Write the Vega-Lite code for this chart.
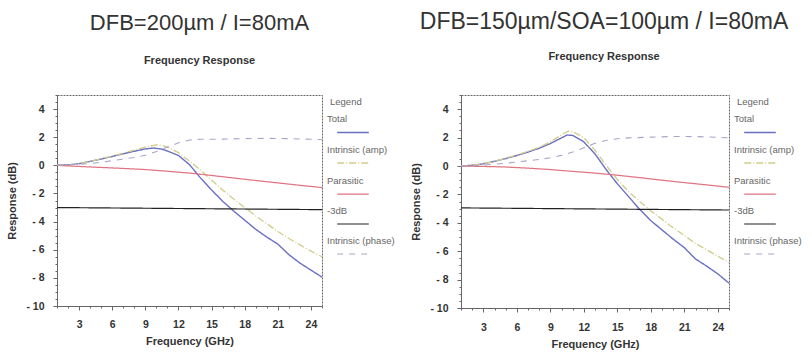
{
  "$schema": "https://vega.github.io/schema/vega-lite/v6.json",
  "background": "white",
  "padding": {"left": 6, "top": 10, "right": 2, "bottom": 2},
  "datasets": {
    "p200": [
      {"series":"Total","f":1,"v":0},{"series":"Total","f":2,"v":0.03},{"series":"Total","f":3,"v":0.12},{"series":"Total","f":4,"v":0.28},{"series":"Total","f":5,"v":0.45},{"series":"Total","f":6,"v":0.63},{"series":"Total","f":7,"v":0.82},{"series":"Total","f":8,"v":1.0},{"series":"Total","f":9,"v":1.17},{"series":"Total","f":9.8,"v":1.23},{"series":"Total","f":10.5,"v":1.15},{"series":"Total","f":11,"v":1.02},{"series":"Total","f":12,"v":0.7},{"series":"Total","f":13,"v":0.05},{"series":"Total","f":14,"v":-0.9},{"series":"Total","f":15,"v":-1.75},{"series":"Total","f":16,"v":-2.55},{"series":"Total","f":17,"v":-3.25},{"series":"Total","f":18,"v":-3.9},{"series":"Total","f":19,"v":-4.55},{"series":"Total","f":20,"v":-5.1},{"series":"Total","f":21,"v":-5.6},{"series":"Total","f":22,"v":-6.35},{"series":"Total","f":23,"v":-6.95},{"series":"Total","f":24,"v":-7.45},{"series":"Total","f":25,"v":-7.95},
      {"series":"Intrinsic (amp)","f":1,"v":0},{"series":"Intrinsic (amp)","f":2,"v":0.03},{"series":"Intrinsic (amp)","f":3,"v":0.12},{"series":"Intrinsic (amp)","f":4,"v":0.28},{"series":"Intrinsic (amp)","f":5,"v":0.47},{"series":"Intrinsic (amp)","f":6,"v":0.66},{"series":"Intrinsic (amp)","f":7,"v":0.87},{"series":"Intrinsic (amp)","f":8,"v":1.08},{"series":"Intrinsic (amp)","f":9,"v":1.3},{"series":"Intrinsic (amp)","f":10,"v":1.45},{"series":"Intrinsic (amp)","f":10.5,"v":1.42},{"series":"Intrinsic (amp)","f":11,"v":1.3},{"series":"Intrinsic (amp)","f":12,"v":0.9},{"series":"Intrinsic (amp)","f":13,"v":0.3},{"series":"Intrinsic (amp)","f":14,"v":-0.35},{"series":"Intrinsic (amp)","f":15,"v":-1.05},{"series":"Intrinsic (amp)","f":16,"v":-1.75},{"series":"Intrinsic (amp)","f":17,"v":-2.4},{"series":"Intrinsic (amp)","f":18,"v":-3.0},{"series":"Intrinsic (amp)","f":19,"v":-3.6},{"series":"Intrinsic (amp)","f":20,"v":-4.15},{"series":"Intrinsic (amp)","f":21,"v":-4.7},{"series":"Intrinsic (amp)","f":22,"v":-5.2},{"series":"Intrinsic (amp)","f":23,"v":-5.65},{"series":"Intrinsic (amp)","f":24,"v":-6.1},{"series":"Intrinsic (amp)","f":25,"v":-6.5},
      {"series":"Parasitic","f":1,"v":0},{"series":"Parasitic","f":3,"v":-0.08},{"series":"Parasitic","f":5,"v":-0.15},{"series":"Parasitic","f":7,"v":-0.22},{"series":"Parasitic","f":9,"v":-0.3},{"series":"Parasitic","f":11,"v":-0.42},{"series":"Parasitic","f":13,"v":-0.55},{"series":"Parasitic","f":15,"v":-0.72},{"series":"Parasitic","f":17,"v":-0.9},{"series":"Parasitic","f":19,"v":-1.08},{"series":"Parasitic","f":21,"v":-1.25},{"series":"Parasitic","f":23,"v":-1.42},{"series":"Parasitic","f":25,"v":-1.58},
      {"series":"-3dB","f":1,"v":-3.0},{"series":"-3dB","f":25,"v":-3.15},
      {"series":"Intrinsic (phase)","f":1,"v":0},{"series":"Intrinsic (phase)","f":2,"v":0.03},{"series":"Intrinsic (phase)","f":3,"v":0.08},{"series":"Intrinsic (phase)","f":4,"v":0.13},{"series":"Intrinsic (phase)","f":5,"v":0.22},{"series":"Intrinsic (phase)","f":6,"v":0.33},{"series":"Intrinsic (phase)","f":7,"v":0.44},{"series":"Intrinsic (phase)","f":8,"v":0.56},{"series":"Intrinsic (phase)","f":9,"v":0.72},{"series":"Intrinsic (phase)","f":10,"v":0.98},{"series":"Intrinsic (phase)","f":11,"v":1.3},{"series":"Intrinsic (phase)","f":12,"v":1.6},{"series":"Intrinsic (phase)","f":13,"v":1.8},{"series":"Intrinsic (phase)","f":14,"v":1.85},{"series":"Intrinsic (phase)","f":16,"v":1.86},{"series":"Intrinsic (phase)","f":18,"v":1.9},{"series":"Intrinsic (phase)","f":20,"v":1.92},{"series":"Intrinsic (phase)","f":22,"v":1.9},{"series":"Intrinsic (phase)","f":24,"v":1.85},{"series":"Intrinsic (phase)","f":25,"v":1.82}
    ],
    "p150": [
      {"series":"Total","f":1,"v":0},{"series":"Total","f":2,"v":0.05},{"series":"Total","f":3,"v":0.15},{"series":"Total","f":4,"v":0.33},{"series":"Total","f":5,"v":0.52},{"series":"Total","f":6,"v":0.74},{"series":"Total","f":7,"v":0.98},{"series":"Total","f":8,"v":1.25},{"series":"Total","f":9,"v":1.58},{"series":"Total","f":10,"v":1.98},{"series":"Total","f":10.5,"v":2.18},{"series":"Total","f":11,"v":2.15},{"series":"Total","f":12,"v":1.7},{"series":"Total","f":13,"v":0.85},{"series":"Total","f":14,"v":-0.25},{"series":"Total","f":15,"v":-1.25},{"series":"Total","f":16,"v":-2.15},{"series":"Total","f":17,"v":-3.05},{"series":"Total","f":18,"v":-3.85},{"series":"Total","f":19,"v":-4.5},{"series":"Total","f":20,"v":-5.15},{"series":"Total","f":21,"v":-5.75},{"series":"Total","f":22,"v":-6.55},{"series":"Total","f":23,"v":-7.05},{"series":"Total","f":24,"v":-7.6},{"series":"Total","f":25,"v":-8.25},
      {"series":"Intrinsic (amp)","f":1,"v":0},{"series":"Intrinsic (amp)","f":2,"v":0.05},{"series":"Intrinsic (amp)","f":3,"v":0.15},{"series":"Intrinsic (amp)","f":4,"v":0.34},{"series":"Intrinsic (amp)","f":5,"v":0.55},{"series":"Intrinsic (amp)","f":6,"v":0.78},{"series":"Intrinsic (amp)","f":7,"v":1.03},{"series":"Intrinsic (amp)","f":8,"v":1.32},{"series":"Intrinsic (amp)","f":9,"v":1.7},{"series":"Intrinsic (amp)","f":10,"v":2.2},{"series":"Intrinsic (amp)","f":10.6,"v":2.45},{"series":"Intrinsic (amp)","f":11,"v":2.42},{"series":"Intrinsic (amp)","f":12,"v":2.0},{"series":"Intrinsic (amp)","f":13,"v":1.1},{"series":"Intrinsic (amp)","f":14,"v":0.05},{"series":"Intrinsic (amp)","f":15,"v":-0.95},{"series":"Intrinsic (amp)","f":16,"v":-1.8},{"series":"Intrinsic (amp)","f":17,"v":-2.5},{"series":"Intrinsic (amp)","f":18,"v":-3.15},{"series":"Intrinsic (amp)","f":19,"v":-3.75},{"series":"Intrinsic (amp)","f":20,"v":-4.35},{"series":"Intrinsic (amp)","f":21,"v":-4.9},{"series":"Intrinsic (amp)","f":22,"v":-5.45},{"series":"Intrinsic (amp)","f":23,"v":-5.9},{"series":"Intrinsic (amp)","f":24,"v":-6.35},{"series":"Intrinsic (amp)","f":25,"v":-6.8},
      {"series":"Parasitic","f":1,"v":0},{"series":"Parasitic","f":3,"v":-0.03},{"series":"Parasitic","f":5,"v":-0.07},{"series":"Parasitic","f":7,"v":-0.15},{"series":"Parasitic","f":9,"v":-0.25},{"series":"Parasitic","f":11,"v":-0.38},{"series":"Parasitic","f":13,"v":-0.5},{"series":"Parasitic","f":15,"v":-0.65},{"series":"Parasitic","f":17,"v":-0.82},{"series":"Parasitic","f":19,"v":-1.0},{"series":"Parasitic","f":21,"v":-1.17},{"series":"Parasitic","f":23,"v":-1.33},{"series":"Parasitic","f":25,"v":-1.5},
      {"series":"-3dB","f":1,"v":-2.95},{"series":"-3dB","f":25,"v":-3.1},
      {"series":"Intrinsic (phase)","f":1,"v":0},{"series":"Intrinsic (phase)","f":2,"v":0.02},{"series":"Intrinsic (phase)","f":3,"v":0.06},{"series":"Intrinsic (phase)","f":4,"v":0.12},{"series":"Intrinsic (phase)","f":5,"v":0.2},{"series":"Intrinsic (phase)","f":6,"v":0.28},{"series":"Intrinsic (phase)","f":7,"v":0.37},{"series":"Intrinsic (phase)","f":8,"v":0.46},{"series":"Intrinsic (phase)","f":9,"v":0.58},{"series":"Intrinsic (phase)","f":10,"v":0.75},{"series":"Intrinsic (phase)","f":11,"v":0.98},{"series":"Intrinsic (phase)","f":12,"v":1.28},{"series":"Intrinsic (phase)","f":13,"v":1.6},{"series":"Intrinsic (phase)","f":14,"v":1.8},{"series":"Intrinsic (phase)","f":15,"v":1.92},{"series":"Intrinsic (phase)","f":16,"v":1.98},{"series":"Intrinsic (phase)","f":18,"v":2.03},{"series":"Intrinsic (phase)","f":20,"v":2.08},{"series":"Intrinsic (phase)","f":22,"v":2.07},{"series":"Intrinsic (phase)","f":24,"v":2.02},{"series":"Intrinsic (phase)","f":25,"v":1.98}
    ]
  },
  "spacing": 12,
  "resolve": {"scale": {"color": "independent", "strokeDash": "independent", "strokeWidth": "independent"}},
  "hconcat": [
    {
      "title": {"text": "DFB=200µm / I=80mA", "subtitle": "Frequency Response", "offset": 23, "subtitlePadding": 20, "dx": 10},
      "width": 265,
      "height": 211,
      "data": {"name": "p200"},
      "mark": {"type": "line", "clip": true},
      "encoding": {
        "x": {"field": "f", "type": "quantitative", "scale": {"domain": [1, 25], "nice": false, "zero": false},
          "axis": {"title": "Frequency (GHz)", "values": [1,2,3,4,5,6,7,8,9,10,11,12,13,14,15,16,17,18,19,20,21,22,23,24,25], "labelExpr": "datum.value % 3 === 0 ? datum.label : ''", "labelOverlap": false, "tickSize": {"condition": {"test": "datum.value % 3 === 0", "value": 4}, "value": 2}, "labelPadding": 9, "titlePadding": 6}},
        "y": {"field": "v", "type": "quantitative", "scale": {"domain": [-10, 5], "nice": false, "zero": false},
          "axis": {"title": "Response (dB)", "values": [-10,-9.5,-9,-8.5,-8,-7.5,-7,-6.5,-6,-5.5,-5,-4.5,-4,-3.5,-3,-2.5,-2,-1.5,-1,-0.5,0,0.5,1,1.5,2,2.5,3,3.5,4,4.5,5], "labelExpr": "datum.value % 2 === 0 ? (datum.value < 0 ? '- ' + abs(datum.value) : '' + datum.value) : ''", "labelOverlap": false, "tickSize": {"condition": {"test": "datum.value % 2 === 0", "value": 4}, "value": 2}, "labelPadding": 9, "titlePadding": 8}},
        "color": {"field": "series", "type": "nominal", "sort": null,
          "scale": {"domain": ["Total", "Intrinsic (amp)", "Parasitic", "-3dB", "Intrinsic (phase)"], "range": ["#6a6fc2", "#d2cc8a", "#e07483", "#222222", "#aaa3c8"]},
          "legend": {"title": "Legend", "orient": "right", "offset": 6, "padding": 2, "symbolType": "stroke", "symbolSize": 1000, "symbolStrokeWidth": 1, "symbolOffset": 6, "labelOffset": -43, "labelBaseline": "bottom", "labelFontSize": 9.5, "labelColor": "#666666", "titleFontSize": 9.5, "titleFontWeight": "normal", "titleColor": "#666666", "titlePadding": 9, "rowPadding": 9, "labelLimit": 120,
            "encode": {"labels": {"update": {"dy": {"value": -8.5}}}}}},
        "strokeDash": {"field": "series", "type": "nominal", "sort": null,
          "scale": {"domain": ["Total", "Intrinsic (amp)", "Parasitic", "-3dB", "Intrinsic (phase)"], "range": [[1, 0], [7, 2, 1, 2], [1, 0], [1, 0], [6, 6]]},
          "legend": {"title": "Legend"}},
        "strokeWidth": {"field": "series", "type": "nominal", "legend": null,
          "scale": {"domain": ["Total", "Intrinsic (amp)", "Parasitic", "-3dB", "Intrinsic (phase)"], "range": [1.4, 1.1, 1, 2, 1.3]}}
      }
    },
    {
      "title": {"text": "DFB=150µm/SOA=100µm / I=80mA", "subtitle": "Frequency Response", "offset": 28, "subtitlePadding": 17, "dx": 9, "fontSize": 23},
      "width": 268,
      "height": 213,
      "data": {"name": "p150"},
      "mark": {"type": "line", "clip": true},
      "encoding": {
        "x": {"field": "f", "type": "quantitative", "scale": {"domain": [1, 25], "nice": false, "zero": false},
          "axis": {"title": "Frequency (GHz)", "values": [1,2,3,4,5,6,7,8,9,10,11,12,13,14,15,16,17,18,19,20,21,22,23,24,25], "labelExpr": "datum.value % 3 === 0 ? datum.label : ''", "labelOverlap": false, "tickSize": {"condition": {"test": "datum.value % 3 === 0", "value": 4}, "value": 2}, "labelPadding": 10, "titlePadding": 6}},
        "y": {"field": "v", "type": "quantitative", "scale": {"domain": [-10, 5], "nice": false, "zero": false},
          "axis": {"title": "Response (dB)", "values": [-10,-9.5,-9,-8.5,-8,-7.5,-7,-6.5,-6,-5.5,-5,-4.5,-4,-3.5,-3,-2.5,-2,-1.5,-1,-0.5,0,0.5,1,1.5,2,2.5,3,3.5,4,4.5,5], "labelExpr": "datum.value % 2 === 0 ? (datum.value < 0 ? '- ' + abs(datum.value) : '' + datum.value) : ''", "labelOverlap": false, "tickSize": {"condition": {"test": "datum.value % 2 === 0", "value": 4}, "value": 2}, "labelPadding": 9, "titlePadding": 8}},
        "color": {"field": "series", "type": "nominal", "sort": null,
          "scale": {"domain": ["Total", "Intrinsic (amp)", "Parasitic", "-3dB", "Intrinsic (phase)"], "range": ["#6a6fc2", "#d2cc8a", "#e07483", "#222222", "#aaa3c8"]},
          "legend": {"title": "Legend", "orient": "right", "offset": 6, "padding": 2, "symbolType": "stroke", "symbolSize": 1000, "symbolStrokeWidth": 1, "symbolOffset": 6, "labelOffset": -43, "labelBaseline": "bottom", "labelFontSize": 9.5, "labelColor": "#666666", "titleFontSize": 9.5, "titleFontWeight": "normal", "titleColor": "#666666", "titlePadding": 9, "rowPadding": 9, "labelLimit": 120,
            "encode": {"labels": {"update": {"dy": {"value": -8.5}}}}}},
        "strokeDash": {"field": "series", "type": "nominal", "sort": null,
          "scale": {"domain": ["Total", "Intrinsic (amp)", "Parasitic", "-3dB", "Intrinsic (phase)"], "range": [[1, 0], [7, 2, 1, 2], [1, 0], [1, 0], [6, 6]]},
          "legend": {"title": "Legend"}},
        "strokeWidth": {"field": "series", "type": "nominal", "legend": null,
          "scale": {"domain": ["Total", "Intrinsic (amp)", "Parasitic", "-3dB", "Intrinsic (phase)"], "range": [1.4, 1.1, 1, 2, 1.3]}}
      }
    }
  ],
  "config": {
    "font": "Liberation Sans",
    "view": {"stroke": "#666666", "strokeDash": [2, 1], "strokeWidth": 1},
    "title": {"font": "Liberation Sans", "fontSize": 22, "fontWeight": "normal", "color": "#333333", "subtitleFont": "Liberation Sans", "subtitleFontSize": 11, "subtitleFontWeight": "bold", "subtitleColor": "#333333"},
    "axis": {"grid": false, "labelFont": "Liberation Sans", "labelFontSize": 10.5, "labelFontWeight": "bold", "labelColor": "#333333", "titleFont": "Liberation Sans", "titleFontSize": 11, "titleFontWeight": "bold", "titleColor": "#333333", "domainColor": "#666666", "tickColor": "#666666"},
    "legend": {"labelFont": "Liberation Sans", "titleFont": "Liberation Sans"}
  }
}
